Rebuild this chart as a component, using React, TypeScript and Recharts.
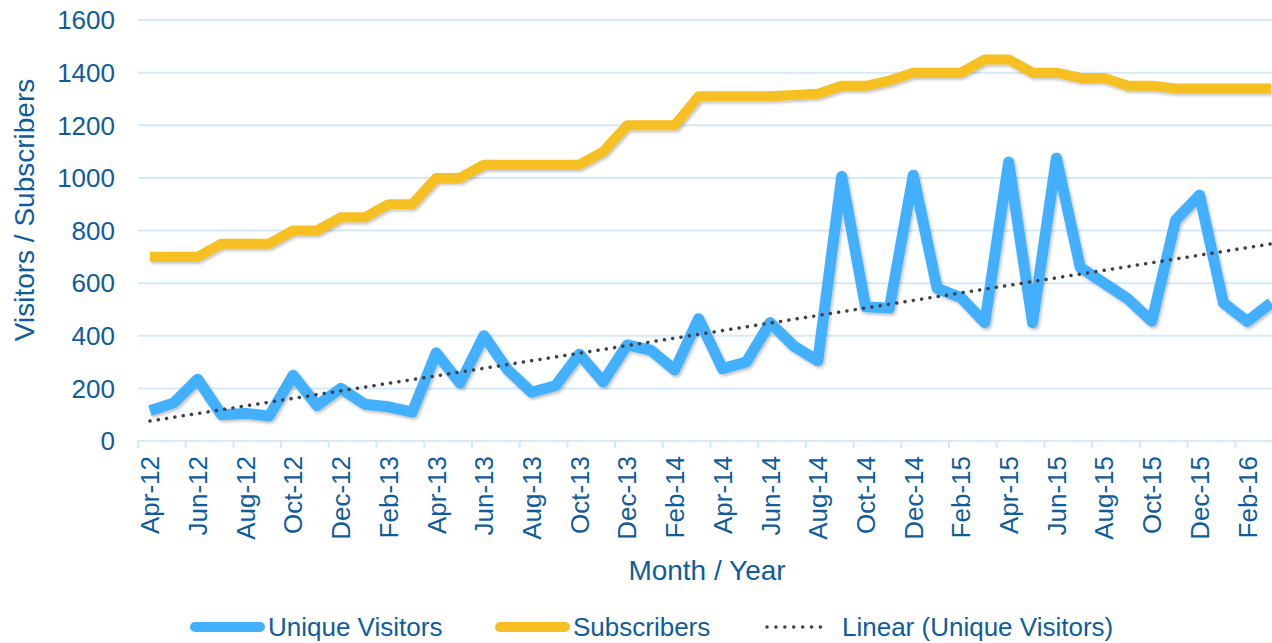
import { LineChart, Line, XAxis, YAxis, CartesianGrid } from 'recharts'

const months = [
  'Apr-12', 'May-12', 'Jun-12', 'Jul-12', 'Aug-12', 'Sep-12', 'Oct-12', 'Nov-12', 'Dec-12', 'Jan-13', 'Feb-13', 'Mar-13',
  'Apr-13', 'May-13', 'Jun-13', 'Jul-13', 'Aug-13', 'Sep-13', 'Oct-13', 'Nov-13', 'Dec-13', 'Jan-14', 'Feb-14', 'Mar-14',
  'Apr-14', 'May-14', 'Jun-14', 'Jul-14', 'Aug-14', 'Sep-14', 'Oct-14', 'Nov-14', 'Dec-14', 'Jan-15', 'Feb-15', 'Mar-15',
  'Apr-15', 'May-15', 'Jun-15', 'Jul-15', 'Aug-15', 'Sep-15', 'Oct-15', 'Nov-15', 'Dec-15', 'Jan-16', 'Feb-16', 'Mar-16',
]

const uniqueVisitors = [
  115, 145, 235, 100, 105, 95, 250, 135, 200, 140, 130, 110,
  335, 220, 400, 270, 185, 210, 330, 225, 365, 345, 270, 465,
  275, 300, 450, 360, 305, 1005, 510, 505, 1010, 580, 545, 450,
  1060, 450, 1075, 660, 600, 540, 455, 840, 935, 525, 455, 525,
]

const subscribers = [
  700, 700, 700, 750, 750, 750, 800, 800, 850, 850, 900, 900,
  1000, 1000, 1050, 1050, 1050, 1050, 1050, 1100, 1200, 1200, 1200, 1310,
  1310, 1310, 1310, 1315, 1320, 1350, 1350, 1370, 1400, 1400, 1400, 1450,
  1450, 1400, 1400, 1380, 1380, 1350, 1350, 1340, 1340, 1340, 1340, 1340,
]

const yTicks = [0, 200, 400, 600, 800, 1000, 1200, 1400, 1600]

// least squares trend of the visitors series (Excel "Linear" trendline)
function linearFit(values: number[]) {
  const n = values.length
  let sx = 0, sy = 0, sxy = 0, sxx = 0
  values.forEach((v, i) => {
    sx += i
    sy += v
    sxy += i * v
    sxx += i * i
  })
  const slope = (n * sxy - sx * sy) / (n * sxx - sx * sx)
  const intercept = (sy - slope * sx) / n
  return values.map((_, i) => intercept + slope * i)
}

const trend = linearFit(uniqueVisitors)

const data = months.map((m, i) => ({
  month: m,
  visitors: uniqueVisitors[i],
  subscribers: subscribers[i],
  trend: trend[i],
}))

const TEXT = '#0f5c9c'
const BLUE = '#42b0ff'
const YELLOW = '#f6bf22'
const GRID = '#d4e9fa'
const FONT = '"Liberation Sans", Arial, sans-serif'

const W = 1290
const H = 643
const PLOT_LEFT = 138
const PLOT_RIGHT = 1283
const PLOT_TOP = 20
const PLOT_BOTTOM = 441
const BAND = (PLOT_RIGHT - PLOT_LEFT) / months.length

const XTick = ({ x, payload }: { x: number; payload: { value: string } }) => (
  <g>
    <line x1={x - BAND / 2} x2={x - BAND / 2} y1={PLOT_BOTTOM} y2={PLOT_BOTTOM + 7} stroke={GRID} strokeWidth={2} />
    <text
      x={0}
      y={0}
      dy="0.36em"
      textAnchor="end"
      fill={TEXT}
      fontSize={26}
      fontFamily={FONT}
      transform={`translate(${x},${PLOT_BOTTOM + 15}) rotate(-90)`}
    >
      {payload.value}
    </text>
  </g>
)

const YTick = ({ y, payload }: { y: number; payload: { value: number } }) => (
  <text x={115} y={y} dy="0.36em" textAnchor="end" fill={TEXT} fontSize={26} fontFamily={FONT}>
    {payload.value}
  </text>
)

const legendItems = [
  { label: 'Unique Visitors', x: 190, color: BLUE, dotted: false },
  { label: 'Subscribers', x: 495, color: YELLOW, dotted: false },
  { label: 'Linear (Unique Visitors)', x: 765, color: '#404048', dotted: true },
]

export default function App() {
  return (
    <div style={{ position: 'absolute', left: 0, top: 0, width: 1272, height: 643, overflow: 'hidden', background: '#fff' }}>
      <LineChart
        width={W}
        height={H}
        data={data}
        margin={{ top: PLOT_TOP, right: W - PLOT_RIGHT, bottom: 0, left: 0 }}
      >
        <defs>
          <filter id="lineShadow" x="-5%" y="-5%" width="110%" height="120%">
            <feDropShadow dx="1.5" dy="2" stdDeviation="1.5" floodColor="#000" floodOpacity="0.25" />
          </filter>
        </defs>
        <CartesianGrid vertical={false} stroke={GRID} strokeWidth={2} />
        <XAxis
          dataKey="month"
          interval={1}
          height={H - PLOT_BOTTOM}
          padding={{ left: BAND / 2, right: BAND / 2 }}
          axisLine={{ stroke: GRID, strokeWidth: 2 }}
          tickLine={false}
          tick={XTick as any}
          label={{
            content: () => (
              <text x={707} y={580} textAnchor="middle" fill={TEXT} fontSize={28} fontFamily={FONT}>
                Month / Year
              </text>
            ),
          }}
        />
        <YAxis
          width={PLOT_LEFT}
          domain={[0, 1600]}
          ticks={yTicks}
          axisLine={false}
          tickLine={false}
          tick={YTick as any}
          label={{
            content: () => (
              <text
                x={0}
                y={0}
                dy="0.36em"
                textAnchor="middle"
                fill={TEXT}
                fontSize={28}
                fontFamily={FONT}
                transform="translate(24,210) rotate(-90)"
              >
                Visitors / Subscribers
              </text>
            ),
          }}
        />
        <Line
          dataKey="visitors"
          stroke={BLUE}
          strokeWidth={11}
          strokeLinejoin="round"
          dot={false}
          filter="url(#lineShadow)"
          isAnimationActive={false}
        />
        <Line
          dataKey="subscribers"
          stroke={YELLOW}
          strokeWidth={10}
          strokeLinejoin="round"
          dot={false}
          filter="url(#lineShadow)"
          isAnimationActive={false}
        />
        <Line
          dataKey="trend"
          stroke="#404048"
          strokeWidth={3.5}
          strokeDasharray="0.1 8.3"
          strokeLinecap="round"
          dot={false}
          isAnimationActive={false}
        />
      </LineChart>
      <svg width={1272} height={40} style={{ position: 'absolute', left: 0, top: 607 }}>
        {legendItems.map((it) => (
          <g key={it.label}>
            {it.dotted ? (
              <line x1={it.x + 2} x2={it.x + 64} y1={20} y2={20} stroke={it.color} strokeWidth={3.5} strokeDasharray="0.1 8.8" strokeLinecap="round" />
            ) : (
              <line x1={it.x + 5} x2={it.x + 70} y1={20} y2={20} stroke={it.color} strokeWidth={10} strokeLinecap="round" />
            )}
            <text x={it.x + (it.dotted ? 77 : 78)} y={20} dy="0.36em" fill={TEXT} fontSize={26} fontFamily={FONT}>
              {it.label}
            </text>
          </g>
        ))}
      </svg>
    </div>
  )
}
